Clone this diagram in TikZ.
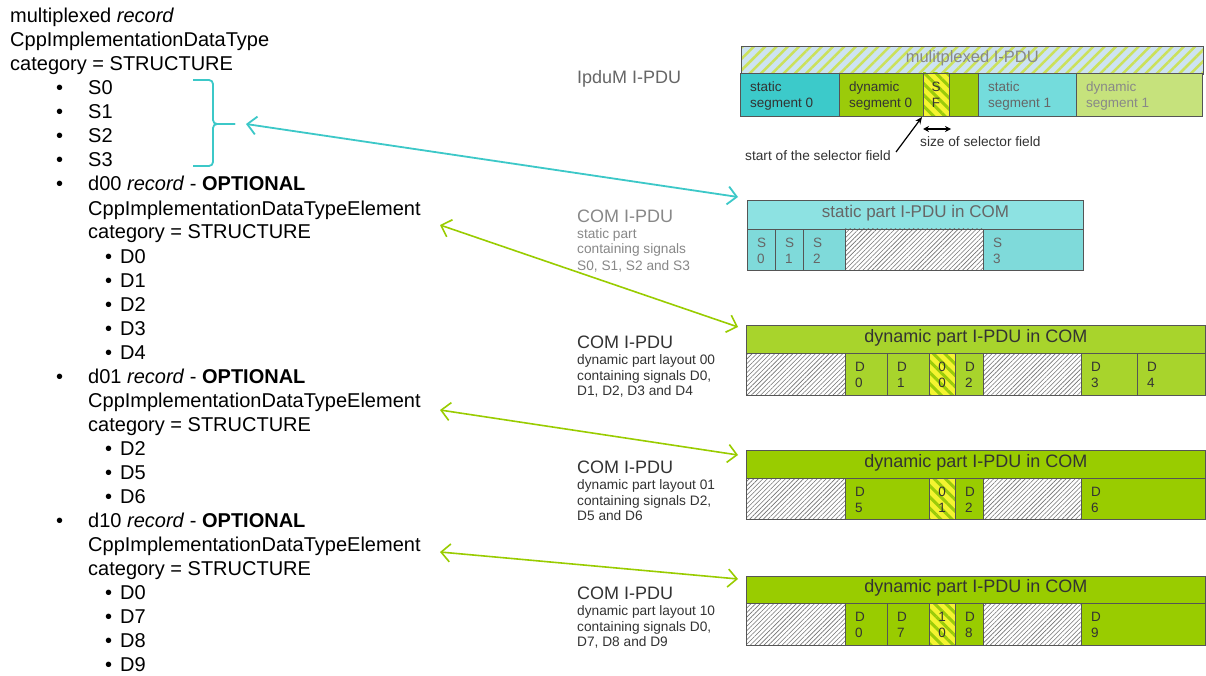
\documentclass[tikz,border=0pt]{standalone}
\usepackage{fontspec}
\setmainfont{Liberation Sans}
\usetikzlibrary{arrows.meta,patterns.meta}
\definecolor{cyanA}{HTML}{3CCACA}
\definecolor{cyanB}{HTML}{74DCDC}
\definecolor{cyanC}{HTML}{8DE2E2}
\definecolor{cyanD}{HTML}{7FDADA}
\definecolor{grnA}{HTML}{9BCB0A}
\definecolor{grnB}{HTML}{C6E27C}
\definecolor{grnC}{HTML}{A8D42C}
\definecolor{grnD}{HTML}{99CC00}
\definecolor{sfyel}{HTML}{F4F430}
\definecolor{muxblue}{HTML}{CDE3F2}
\definecolor{muxstripe}{HTML}{CBE15A}
\definecolor{arrcyan}{HTML}{3CC8C8}
\definecolor{arrgrn}{HTML}{99CC00}
\definecolor{bordcol}{HTML}{555555}
\definecolor{txtdark}{HTML}{333333}
\definecolor{txtmid}{HTML}{666666}
\definecolor{txtlight}{HTML}{888888}
\tikzset{
  lt/.style={anchor=base west, inner sep=0pt, font=\fontsize{20}{24}\selectfont, text=black},
  cellline/.style={draw=bordcol, line width=0.8pt},
  hatchcell/.style={draw=bordcol, line width=0.8pt, preaction={fill=white},
    pattern={Lines[angle=45,distance=3.2pt,line width=0.6pt]}, pattern color=black!55},
  sfcell/.style={draw=bordcol, line width=0.8pt, preaction={fill=sfyel},
    pattern={Lines[angle=-45,distance=8pt,line width=3pt]}, pattern color=grnA},
  celltxt/.style={anchor=north west, inner sep=0pt, align=left, font=\fontsize{13.5}{16}\selectfont},
  sftxt/.style={anchor=north, inner sep=0pt, align=center, font=\fontsize{13.5}{16}\selectfont, text=txtdark},
  hdr/.style={anchor=north west, inner sep=0pt, draw=bordcol, line width=0.8pt,
    text height=0.72em, text depth=0.2em},
  lbl/.style={anchor=base west, inner sep=0pt, font=\fontsize{18}{20}\selectfont},
  sublbl/.style={anchor=base west, inner sep=0pt, font=\fontsize{13.7}{16}\selectfont},
  annot/.style={anchor=base west, inner sep=0pt, font=\fontsize{13.7}{16}\selectfont, text=txtdark},
  cconn/.style={draw=arrcyan, line width=1.8pt,
    {Straight Barb[length=9pt,width=18pt]}-{Straight Barb[length=9pt,width=18pt]}},
  gconn/.style={draw=arrgrn, line width=1.6pt,
    {Straight Barb[length=9pt,width=18pt]}-{Straight Barb[length=9pt,width=18pt]}},
  bracestyle/.style={draw=arrcyan, line width=1.8pt, rounded corners=4pt},
  blk/.style={draw=black, line width=1.2pt}
}
\newcommand\mkline[3]{\node[lt] (l#1) at (#2,{23+24*#1}) {#3};}
\newcommand\mkbul[2]{\node[lt] (b#1) at (#2,{23+24*#1}) {\textbullet};}
\newcommand\tcell[7]{\draw[cellline,fill=#5] (#1,#3) rectangle (#2,#4);
  \node[celltxt,text=#6] (t#1-#3) at ({#1+10},{#3+9}) {#7};}
\newcommand\hcell[4]{\draw[hatchcell] (#1,#3) rectangle (#2,#4);}
\newcommand\sfcellm[5]{\draw[sfcell] (#1,#3) rectangle (#2,#4);
  \node[sftxt] (t#1-#3) at ({(#1+#2)/2},{#3+9}) {#5};}
\begin{document}
\begin{tikzpicture}[x=1pt,y=-1pt]
\useasboundingbox (0,0) rectangle (1206,676);
\fill[white] (0,0) rectangle (1206,676);

% ---------- left column ----------
\mkline{0}{10}{multiplexed \textit{record}}
\mkline{1}{10}{CppImplementationDataType}
\mkline{2}{10}{category = STRUCTURE}
\mkbul{3}{56}\mkline{3}{88}{S0}
\mkbul{4}{56}\mkline{4}{88}{S1}
\mkbul{5}{56}\mkline{5}{88}{S2}
\mkbul{6}{56}\mkline{6}{88}{S3}
\mkbul{7}{56}\mkline{7}{88}{d00 \textit{record} - \textbf{OPTIONAL}}
\mkline{8}{88}{CppImplementationDataTypeElement}
\mkline{9}{88}{category = STRUCTURE}
\mkbul{10}{105}\mkline{10}{120}{D0}
\mkbul{11}{105}\mkline{11}{120}{D1}
\mkbul{12}{105}\mkline{12}{120}{D2}
\mkbul{13}{105}\mkline{13}{120}{D3}
\mkbul{14}{105}\mkline{14}{120}{D4}
\mkbul{15}{56}\mkline{15}{88}{d01 \textit{record} - \textbf{OPTIONAL}}
\mkline{16}{88}{CppImplementationDataTypeElement}
\mkline{17}{88}{category = STRUCTURE}
\mkbul{18}{105}\mkline{18}{120}{D2}
\mkbul{19}{105}\mkline{19}{120}{D5}
\mkbul{20}{105}\mkline{20}{120}{D6}
\mkbul{21}{56}\mkline{21}{88}{d10 \textit{record} - \textbf{OPTIONAL}}
\mkline{22}{88}{CppImplementationDataTypeElement}
\mkline{23}{88}{category = STRUCTURE}
\mkbul{24}{105}\mkline{24}{120}{D0}
\mkbul{25}{105}\mkline{25}{120}{D7}
\mkbul{26}{105}\mkline{26}{120}{D8}
\mkbul{27}{105}\mkline{27}{120}{D9}

% brace
\draw[bracestyle] (193,80) -- (213,80) -- (213,124) -- (235,124);
\draw[bracestyle] (193,166) -- (213,166) -- (213,124) -- (235,124);
\coordinate (bracetip) at (235,124);

% ---------- multiplexed I-PDU ----------
\node[lbl, text=txtmid] (ipdum) at (577,84) {IpduM I-PDU};
\node[hdr, minimum width=462pt, minimum height=28pt, preaction={fill=muxblue},
  pattern={Lines[angle=45,distance=8pt,line width=2.5pt]}, pattern color=muxstripe,
  font=\fontsize{16.5}{18}\selectfont, text=txtlight] (muxhdr) at (740,45) {mulitplexed I-PDU};
\tcell{740}{839}{73}{116}{cyanA}{txtdark}{static\\segment 0}
\tcell{839}{923}{73}{116}{grnA}{txtdark}{dynamic\\segment 0}
\sfcellm{923}{949}{73}{116}{S\\F}
\draw[cellline,fill=grnA] (949,73) rectangle (978,116);
\tcell{978}{1076}{73}{116}{cyanB}{txtmid}{static\\segment 1}
\tcell{1076}{1202}{73}{116}{grnB}{txtlight}{dynamic\\segment 1}

\node[annot] (startlbl) at (745,161) {start of the selector field};
\node[annot] (sizelbl) at (920,147) {size of selector field};
\coordinate (sfstart) at (896,152);
\coordinate (sfcorner) at (922,117);
\draw[blk, -{Stealth[length=7pt,width=6pt]}] (sfstart) -- (sfcorner);
\coordinate (szl) at (923,129);
\coordinate (szr) at (951,129);
\draw[blk, {Stealth[length=6pt,width=6pt]}-{Stealth[length=6pt,width=6pt]}] (szl) -- (szr);

% ---------- static COM I-PDU ----------
\node[lbl, text=txtlight] (c1) at (577,223) {COM I-PDU};
\node[sublbl, text=txtlight] (c1a) at (577,239) {static part};
\node[sublbl, text=txtlight] (c1b) at (577,254) {containing signals};
\node[sublbl, text=txtlight] (c1c) at (577,270) {S0, S1, S2 and S3};
\node[hdr, minimum width=336pt, minimum height=29pt, fill=cyanC,
  font=\fontsize{17}{19}\selectfont, text=txtmid] (sthdr) at (747,200) {static part I-PDU in COM};
\tcell{747}{775}{229}{270}{cyanD}{txtmid}{S\\0}
\tcell{775}{803}{229}{270}{cyanD}{txtmid}{S\\1}
\tcell{803}{845}{229}{270}{cyanD}{txtmid}{S\\2}
\hcell{845}{983}{229}{270}
\tcell{983}{1083}{229}{270}{cyanD}{txtmid}{S\\3}

% ---------- dynamic 00 ----------
\node[lbl, text=txtdark] (c2) at (577,348) {COM I-PDU};
\node[sublbl, text=txtdark] (c2a) at (577,364) {dynamic part layout 00};
\node[sublbl, text=txtdark] (c2b) at (577,380) {containing signals D0,};
\node[sublbl, text=txtdark] (c2c) at (577,395) {D1, D2, D3 and D4};
\node[hdr, minimum width=459pt, minimum height=28pt, fill=grnC,
  font=\fontsize{18}{20}\selectfont, text=txtdark] (d0hdr) at (746,325) {dynamic part I-PDU in COM};
\hcell{746}{845}{353}{395}
\tcell{845}{887}{353}{395}{grnC}{txtdark}{D\\0}
\tcell{887}{929}{353}{395}{grnC}{txtdark}{D\\1}
\sfcellm{929}{955}{353}{395}{0\\0}
\tcell{955}{983}{353}{395}{grnC}{txtdark}{D\\2}
\hcell{983}{1081}{353}{395}
\tcell{1081}{1137}{353}{395}{grnC}{txtdark}{D\\3}
\tcell{1137}{1205}{353}{395}{grnC}{txtdark}{D\\4}

% ---------- dynamic 01 ----------
\node[lbl, text=txtdark] (c3) at (577,473) {COM I-PDU};
\node[sublbl, text=txtdark] (c3a) at (577,489) {dynamic part layout 01};
\node[sublbl, text=txtdark] (c3b) at (577,505) {containing signals D2,};
\node[sublbl, text=txtdark] (c3c) at (577,520) {D5 and D6};
\node[hdr, minimum width=459pt, minimum height=28pt, fill=grnD,
  font=\fontsize{18}{20}\selectfont, text=txtdark] (d1hdr) at (746,450) {dynamic part I-PDU in COM};
\hcell{746}{845}{478}{519}
\tcell{845}{929}{478}{519}{grnD}{txtdark}{D\\5}
\sfcellm{929}{955}{478}{519}{0\\1}
\tcell{955}{983}{478}{519}{grnD}{txtdark}{D\\2}
\hcell{983}{1081}{478}{519}
\tcell{1081}{1205}{478}{519}{grnD}{txtdark}{D\\6}

% ---------- dynamic 10 ----------
\node[lbl, text=txtdark] (c4) at (577,599) {COM I-PDU};
\node[sublbl, text=txtdark] (c4a) at (577,615) {dynamic part layout 10};
\node[sublbl, text=txtdark] (c4b) at (577,631) {containing signals D0,};
\node[sublbl, text=txtdark] (c4c) at (577,646) {D7, D8 and D9};
\node[hdr, minimum width=459pt, minimum height=27pt, fill=grnD,
  font=\fontsize{18}{20}\selectfont, text=txtdark] (d2hdr) at (746,576) {dynamic part I-PDU in COM};
\hcell{746}{845}{603}{645}
\tcell{845}{887}{603}{645}{grnD}{txtdark}{D\\0}
\tcell{887}{929}{603}{645}{grnD}{txtdark}{D\\7}
\sfcellm{929}{955}{603}{645}{1\\0}
\tcell{955}{983}{603}{645}{grnD}{txtdark}{D\\8}
\hcell{983}{1081}{603}{645}
\tcell{1081}{1205}{603}{645}{grnD}{txtdark}{D\\9}

% ---------- connectors ----------
\coordinate (cstart) at (246,124);
\coordinate (stin) at ([shift={(-9,-3)}]sthdr.north west);
\draw[cconn] (cstart) -- (stin);
\coordinate (g1s) at (440,225);
\coordinate (g1e) at ([shift={(-8,2)}]d0hdr.north west);
\draw[gconn] (g1s) -- (g1e);
\coordinate (g2s) at (440,410);
\coordinate (g2e) at ([shift={(-8,5)}]d1hdr.north west);
\draw[gconn] (g2s) -- (g2e);
\coordinate (g3s) at (440,552);
\coordinate (g3e) at ([shift={(-8,3)}]d2hdr.north west);
\draw[gconn] (g3s) -- (g3e);
\end{tikzpicture}
\end{document}
